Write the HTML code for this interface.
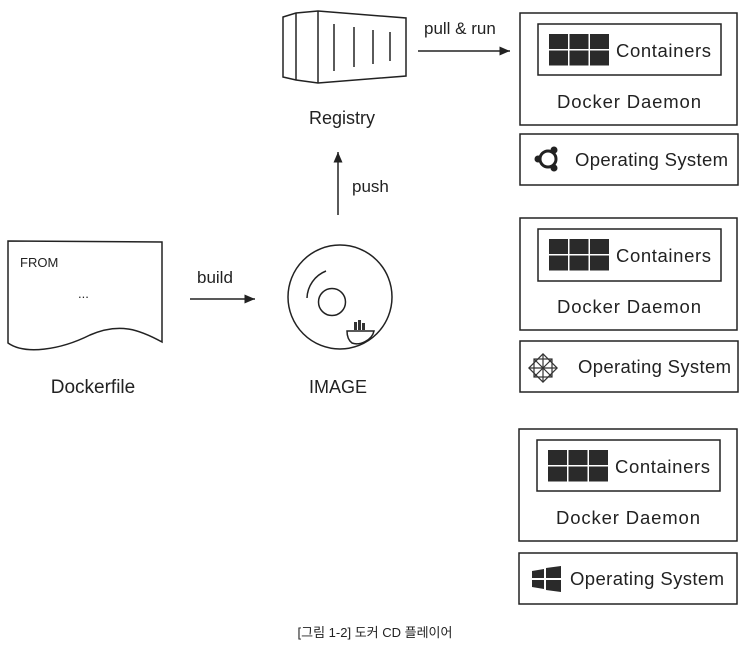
<!DOCTYPE html>
<html><head><meta charset="utf-8"><style>
html,body{margin:0;padding:0;background:#fff;}
svg{display:block;}
text{font-family:"Liberation Sans","Noto Sans CJK KR",sans-serif;fill:#222;}
</style></head><body>
<svg width="750" height="649" viewBox="0 0 750 649" xmlns="http://www.w3.org/2000/svg">
<defs>
<marker id="ah" markerWidth="8" markerHeight="8" refX="7" refY="4" orient="auto"><path d="M0,1 L7,4 L0,7 z" fill="#222"/></marker>
<g id="grid" fill="#2a2a2a"><rect x="0" y="0" width="19" height="15"/><rect x="20.5" y="0" width="19" height="15"/><rect x="41" y="0" width="19" height="15"/><rect x="0" y="16.5" width="19" height="15"/><rect x="20.5" y="16.5" width="19" height="15"/><rect x="41" y="16.5" width="19" height="15"/></g>
</defs>
<g stroke="#222" stroke-width="1.5" fill="none">
<path d="M283,17 L296,13 L318,11 L406,18 L406,76 L318,83 L296,80 L283,77 Z"/>
<line x1="296" y1="13" x2="296" y2="80"/><line x1="318" y1="11" x2="318" y2="83"/>
<line x1="334" y1="24" x2="334" y2="71"/><line x1="354" y1="27" x2="354" y2="67"/><line x1="373" y1="30" x2="373" y2="64"/><line x1="390" y1="32" x2="390" y2="61"/>
<line x1="418" y1="51" x2="510" y2="51" marker-end="url(#ah)"/>
<line x1="338" y1="215" x2="338" y2="152" marker-end="url(#ah)"/>
<line x1="190" y1="299" x2="255" y2="299" marker-end="url(#ah)"/>
<path d="M8,241 L162,242 L162,342 C140,330 120,322 90,335 C60,350 25,355 8,343 Z"/>
<circle cx="340" cy="297" r="52"/>
<circle cx="332" cy="302" r="13.5"/>
<path d="M307,298 A30,30 0 0 1 326,271"/>
<path d="M347,331 L374,331 C372,340 360,346 352,343 C348,340 347,336 347,331 Z"/>
<rect x="520" y="13" width="217" height="112"/><rect x="538" y="24" width="183" height="51"/>
<rect x="520" y="134" width="218" height="51"/>
<rect x="520" y="218" width="217" height="112"/><rect x="538" y="229" width="183" height="52"/>
<rect x="520" y="341" width="218" height="51"/>
<rect x="519" y="429" width="218" height="112"/><rect x="537" y="440" width="183" height="51"/>
<rect x="519" y="553" width="218" height="51"/>
</g>
<g fill="#333"><rect x="354" y="322" width="3" height="8"/><rect x="358" y="320" width="3" height="10"/><rect x="362" y="323" width="3" height="7"/></g>
<use href="#grid" x="549" y="34"/>
<use href="#grid" x="549" y="239"/>
<use href="#grid" x="548" y="450"/>
<g fill="none" stroke="#222" stroke-width="3"><circle cx="548" cy="159" r="8"/></g>
<g fill="#222"><circle cx="538" cy="159" r="3.5"/><circle cx="554" cy="150" r="3.5"/><circle cx="554" cy="168" r="3.5"/></g>
<g fill="none" stroke="#333" stroke-width="1.2">
<rect x="533" y="358" width="20" height="20" transform="rotate(45 543 368)"/>
<rect x="534" y="359" width="18" height="18"/>
<line x1="529" y1="368" x2="557" y2="368"/><line x1="543" y1="354" x2="543" y2="382"/>
<line x1="534" y1="359" x2="552" y2="377"/><line x1="552" y1="359" x2="534" y2="377"/>
</g>
<path d="M532,571 L544,569 L544,578 L532,578 Z M546,568 L561,566 L561,578 L546,578 Z M532,580 L544,580 L544,589 L532,587 Z M546,580 L561,580 L561,592 L546,590 Z" fill="#2a2a2a"/>
<g font-size="17">
<text x="424" y="34">pull &amp; run</text>
<text x="342" y="124" text-anchor="middle" font-size="18">Registry</text>
<text x="352" y="192">push</text>
<text x="197" y="283">build</text>
<text x="20" y="267" font-size="13">FROM</text>
<text x="78" y="298" font-size="13">...</text>
<text x="93" y="393" text-anchor="middle" font-size="19">Dockerfile</text>
<text x="338" y="393" text-anchor="middle" font-size="18">IMAGE</text>
<g font-size="18.5">
<text x="616" y="57" textLength="95">Containers</text>
<text x="629" y="108" text-anchor="middle" textLength="144">Docker Daemon</text>
<text x="575" y="166" textLength="153">Operating System</text>
<text x="616" y="262" textLength="95">Containers</text>
<text x="629" y="313" text-anchor="middle" textLength="144">Docker Daemon</text>
<text x="578" y="373" textLength="153">Operating System</text>
<text x="615" y="473" textLength="95">Containers</text>
<text x="628" y="524" text-anchor="middle" textLength="144">Docker Daemon</text>
<text x="570" y="585" textLength="154">Operating System</text>
</g>
</g>
<text x="375" y="637" text-anchor="middle" font-size="13">[그림 1-2] 도커 CD 플레이어</text>
</svg>
</body></html>
